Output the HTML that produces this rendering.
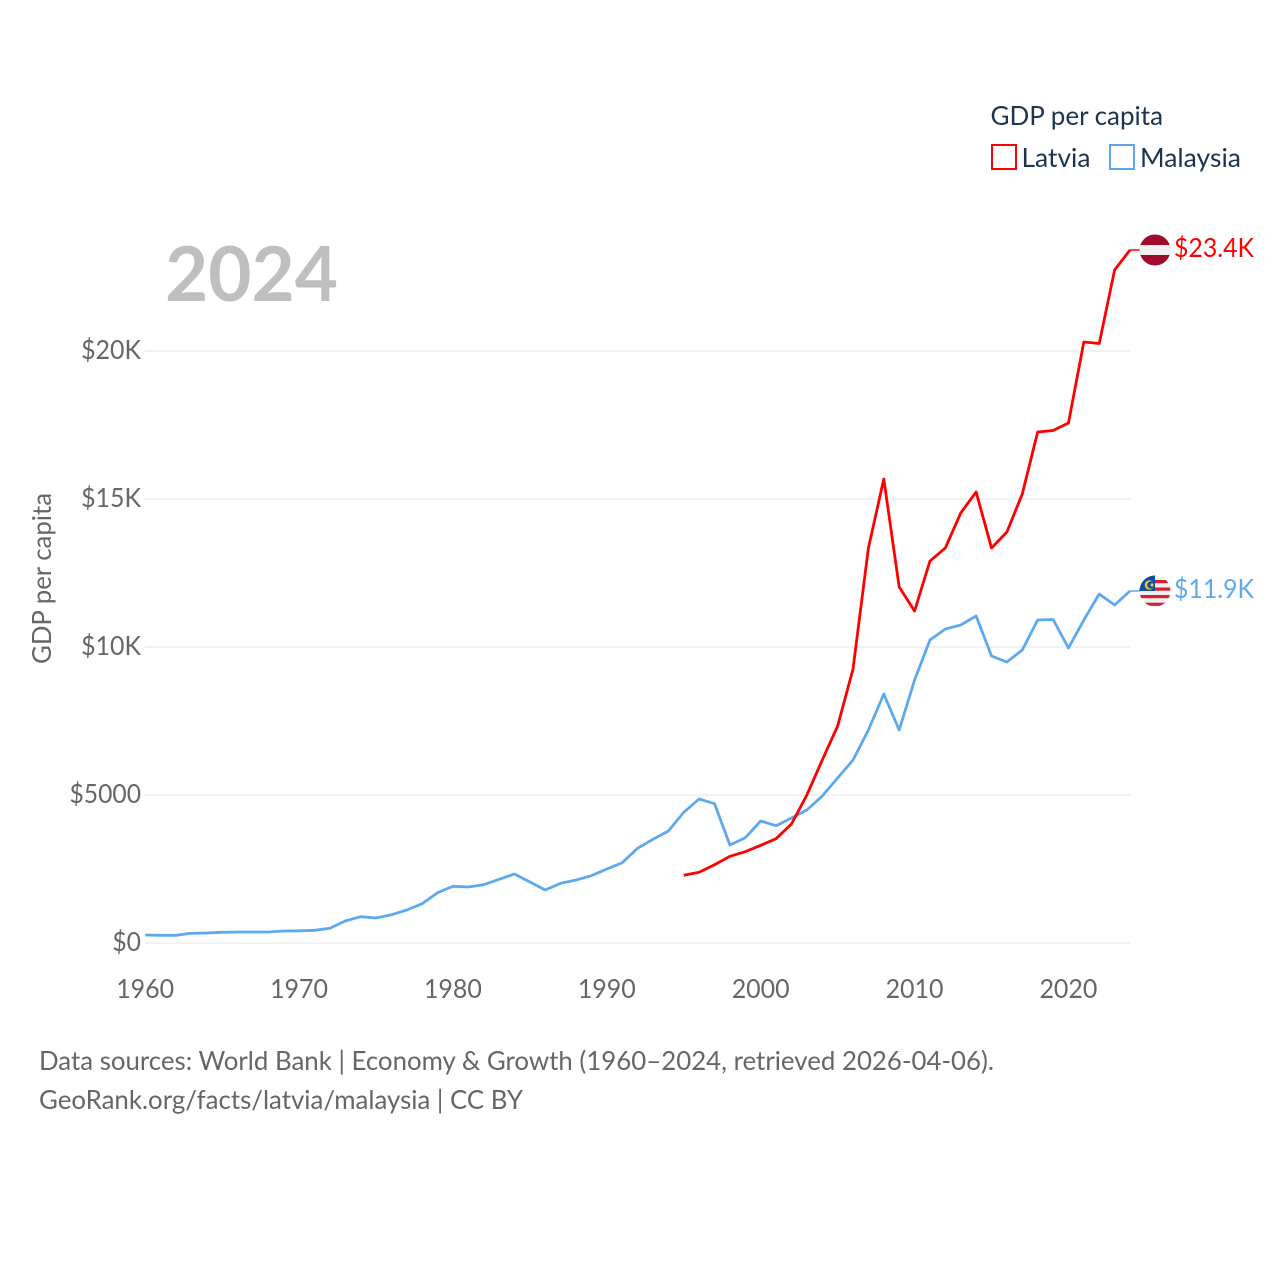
<!DOCTYPE html>
<html lang="en">
<head>
<meta charset="utf-8">
<title>GDP per capita: Latvia and Malaysia</title>
<style>
html,body{margin:0;padding:0;background:#fff;width:1280px;height:1280px;overflow:hidden}
svg{display:block}
text{font-family:"Lato","Carlito","Liberation Sans",sans-serif}
.tick{font-size:26px;fill:#666}
.leg{font-size:26px;fill:#1c3352}
.foot{font-size:26px;fill:#666}
</style>
</head>
<body>
<svg id="chart" xmlns="http://www.w3.org/2000/svg" width="1280" height="1280" viewBox="0 0 1280 1280">
  <rect width="1280" height="1280" fill="#fff"/>
  <g id="grid"></g>
  <text x="165" y="301" font-size="76" font-weight="700" fill="#bfbfbf" textLength="173" lengthAdjust="spacingAndGlyphs">2024</text>
  <g id="yticks"></g>
  <g id="xticks"></g>
  <text class="tick" transform="translate(51,664) rotate(-90)" textLength="171" lengthAdjust="spacingAndGlyphs">GDP per capita</text>
  <g id="series"></g>

  <defs>
    <clipPath id="clip-lv"><circle cx="1155" cy="250" r="15.5"/></clipPath>
    <clipPath id="clip-my"><circle cx="1155" cy="591" r="15.5"/></clipPath>
  </defs>
  <g id="flag-latvia" clip-path="url(#clip-lv)"></g>
  <g id="flag-malaysia" clip-path="url(#clip-my)"></g>
  <text id="label-latvia" x="1174" y="257" font-size="26" fill="#ff0000" textLength="80" lengthAdjust="spacingAndGlyphs">$23.4K</text>
  <text id="label-malaysia" x="1174" y="598" font-size="26" fill="#5ea9ee" textLength="80" lengthAdjust="spacingAndGlyphs">$11.9K</text>

  <g>
    <text class="leg" x="990.5" y="125" textLength="172.5" lengthAdjust="spacingAndGlyphs">GDP per capita</text>
    <rect x="992" y="145" width="24" height="24" fill="#fff" stroke="#ff0000" stroke-width="2"/>
    <text class="leg" x="1021.5" y="167" textLength="69" lengthAdjust="spacingAndGlyphs">Latvia</text>
    <rect x="1110" y="145" width="24" height="24" fill="#fff" stroke="#5ea9ee" stroke-width="2"/>
    <text class="leg" x="1140" y="167" textLength="101" lengthAdjust="spacingAndGlyphs">Malaysia</text>
  </g>

  <text class="foot" x="39" y="1070" textLength="955" lengthAdjust="spacingAndGlyphs">Data sources: World Bank | Economy &amp; Growth (1960–2024, retrieved 2026-04-06).</text>
  <text class="foot" x="39" y="1109" textLength="484" lengthAdjust="spacingAndGlyphs">GeoRank.org/facts/latvia/malaysia | CC BY</text>
</svg>
<script>
const years = [1960,1961,1962,1963,1964,1965,1966,1967,1968,1969,1970,1971,1972,1973,1974,1975,1976,1977,1978,1979,1980,1981,1982,1983,1984,1985,1986,1987,1988,1989,1990,1991,1992,1993,1994,1995,1996,1997,1998,1999,2000,2001,2002,2003,2004,2005,2006,2007,2008,2009,2010,2011,2012,2013,2014,2015,2016,2017,2018,2019,2020,2021,2022,2023,2024];
const malaysiaValues = [270,260,260,328,338,361,372,372,372,405,412,429,497,743,889,845,953,1115,1328,1699,1916,1892,1970,2152,2331,2061,1791,2017,2128,2274,2500,2713,3199,3503,3784,4416,4865,4706,3311,3557,4122,3963,4223,4493,4966,5574,6182,7196,8412,7196,8885,10236,10608,10743,11047,9696,9493,9899,10912,10929,9966,10912,11791,11419,11892];
const latviaYears = [1995,1996,1997,1998,1999,2000,2001,2002,2003,2004,2005,2006,2007,2008,2009,2010,2011,2012,2013,2014,2015,2016,2017,2018,2019,2020,2021,2022,2023,2024];
const latviaValues = [2287,2389,2645,2929,3084,3301,3524,4020,5000,6182,7331,9257,13345,15676,12027,11216,12905,13345,14527,15236,13345,13885,15169,17264,17314,17568,20304,20253,22736,23412];
const yTickValues = [0,5000,10000,15000,20000];
const yTickLabels = ['$0','$5000','$10K','$15K','$20K'];
const xTickValues = [1960,1970,1980,1990,2000,2010,2020];

const NS = 'http://www.w3.org/2000/svg';
function xScale(year) { return 145.2 + (year - 1960) * (1130 - 145.2) / 64; }
function yScale(value) { return 943 - value * 0.0296; }
function labelWidth(label) { return label.endsWith('K') ? (label.length - 1) * 14.3 + 17 : label.length * 14.3; }
function make(tag, attrs, parent) {
  const el = document.createElementNS(NS, tag);
  for (const k in attrs) el.setAttribute(k, attrs[k]);
  parent.appendChild(el);
  return el;
}

const grid = document.getElementById('grid');
const yticks = document.getElementById('yticks');
const xticks = document.getElementById('xticks');
const series = document.getElementById('series');

yTickValues.forEach(function (v, i) {
  const y = yScale(v);
  const line = make('line', {x1: 145, x2: 1130, y1: y, y2: y, stroke: '#e9e9e9', 'stroke-width': 1.3}, grid);
  
  
  const t = make('text', {x: 141, y: y + 8, class: 'tick', 'text-anchor': 'end', textLength: labelWidth(yTickLabels[i]), lengthAdjust: 'spacingAndGlyphs'}, yticks);
  t.textContent = yTickLabels[i];
  
  
});

xTickValues.forEach(function (v) {
  const t = make('text', {x: xScale(v), y: 998, class: 'tick', 'text-anchor': 'middle', textLength: 58, lengthAdjust: 'spacingAndGlyphs'}, xticks);
  t.textContent = String(v);
  
  
});

function pathFor(xs, vs) {
  return xs.map(function (yr, i) {
    return (i ? 'L' : 'M') + xScale(yr).toFixed(2) + ' ' + yScale(vs[i]).toFixed(2);
  }).join(' ');
}

const malaysiaLine = make('path', {d: pathFor(years, malaysiaValues), fill: 'none', stroke: '#5ea9ee', 'stroke-width': 2.8, 'stroke-linejoin': 'round'}, series);


const latviaLine = make('path', {d: pathFor(latviaYears, latviaValues), fill: 'none', stroke: '#ff0000', 'stroke-width': 2.8, 'stroke-linejoin': 'round'}, series);



const latEnd = yScale(latviaValues[latviaValues.length - 1]);
const latLead = make('line', {x1: xScale(2024), x2: 1141, y1: latEnd, y2: latEnd, stroke: '#ff0000', 'stroke-width': 1.5}, series);


const mayEnd = yScale(malaysiaValues[malaysiaValues.length - 1]);
const mayLead = make('line', {x1: xScale(2024), x2: 1141, y1: mayEnd, y2: mayEnd, stroke: '#5ea9ee', 'stroke-width': 1.5}, series);



// Flags sit on the end of each series
const fl = document.getElementById('flag-latvia');
make('rect', {x: 1139, y: 234, width: 32, height: 32, fill: '#a00a2c'}, fl);
make('rect', {x: 1139, y: 245, width: 32, height: 10, fill: '#f2f0f0'}, fl);

const fm = document.getElementById('flag-malaysia');
make('rect', {x: 1139, y: 575, width: 32, height: 32, fill: '#f0f0f0'}, fm);
[580, 587.5, 595, 602.7].forEach(function (sy) {
  make('rect', {x: 1139, y: sy, width: 32, height: 3.2, fill: '#d8202f'}, fm);
});
make('rect', {x: 1139, y: 575, width: 16, height: 16, fill: '#0b4ea2'}, fm);
make('circle', {cx: 1149.5, cy: 585, r: 4.8, fill: '#f4c430'}, fm);
make('circle', {cx: 1151, cy: 585, r: 3.8, fill: '#0b4ea2'}, fm);
make('circle', {cx: 1152, cy: 585, r: 1.6, fill: '#f4c430'}, fm);
</script>
</body>
</html>
